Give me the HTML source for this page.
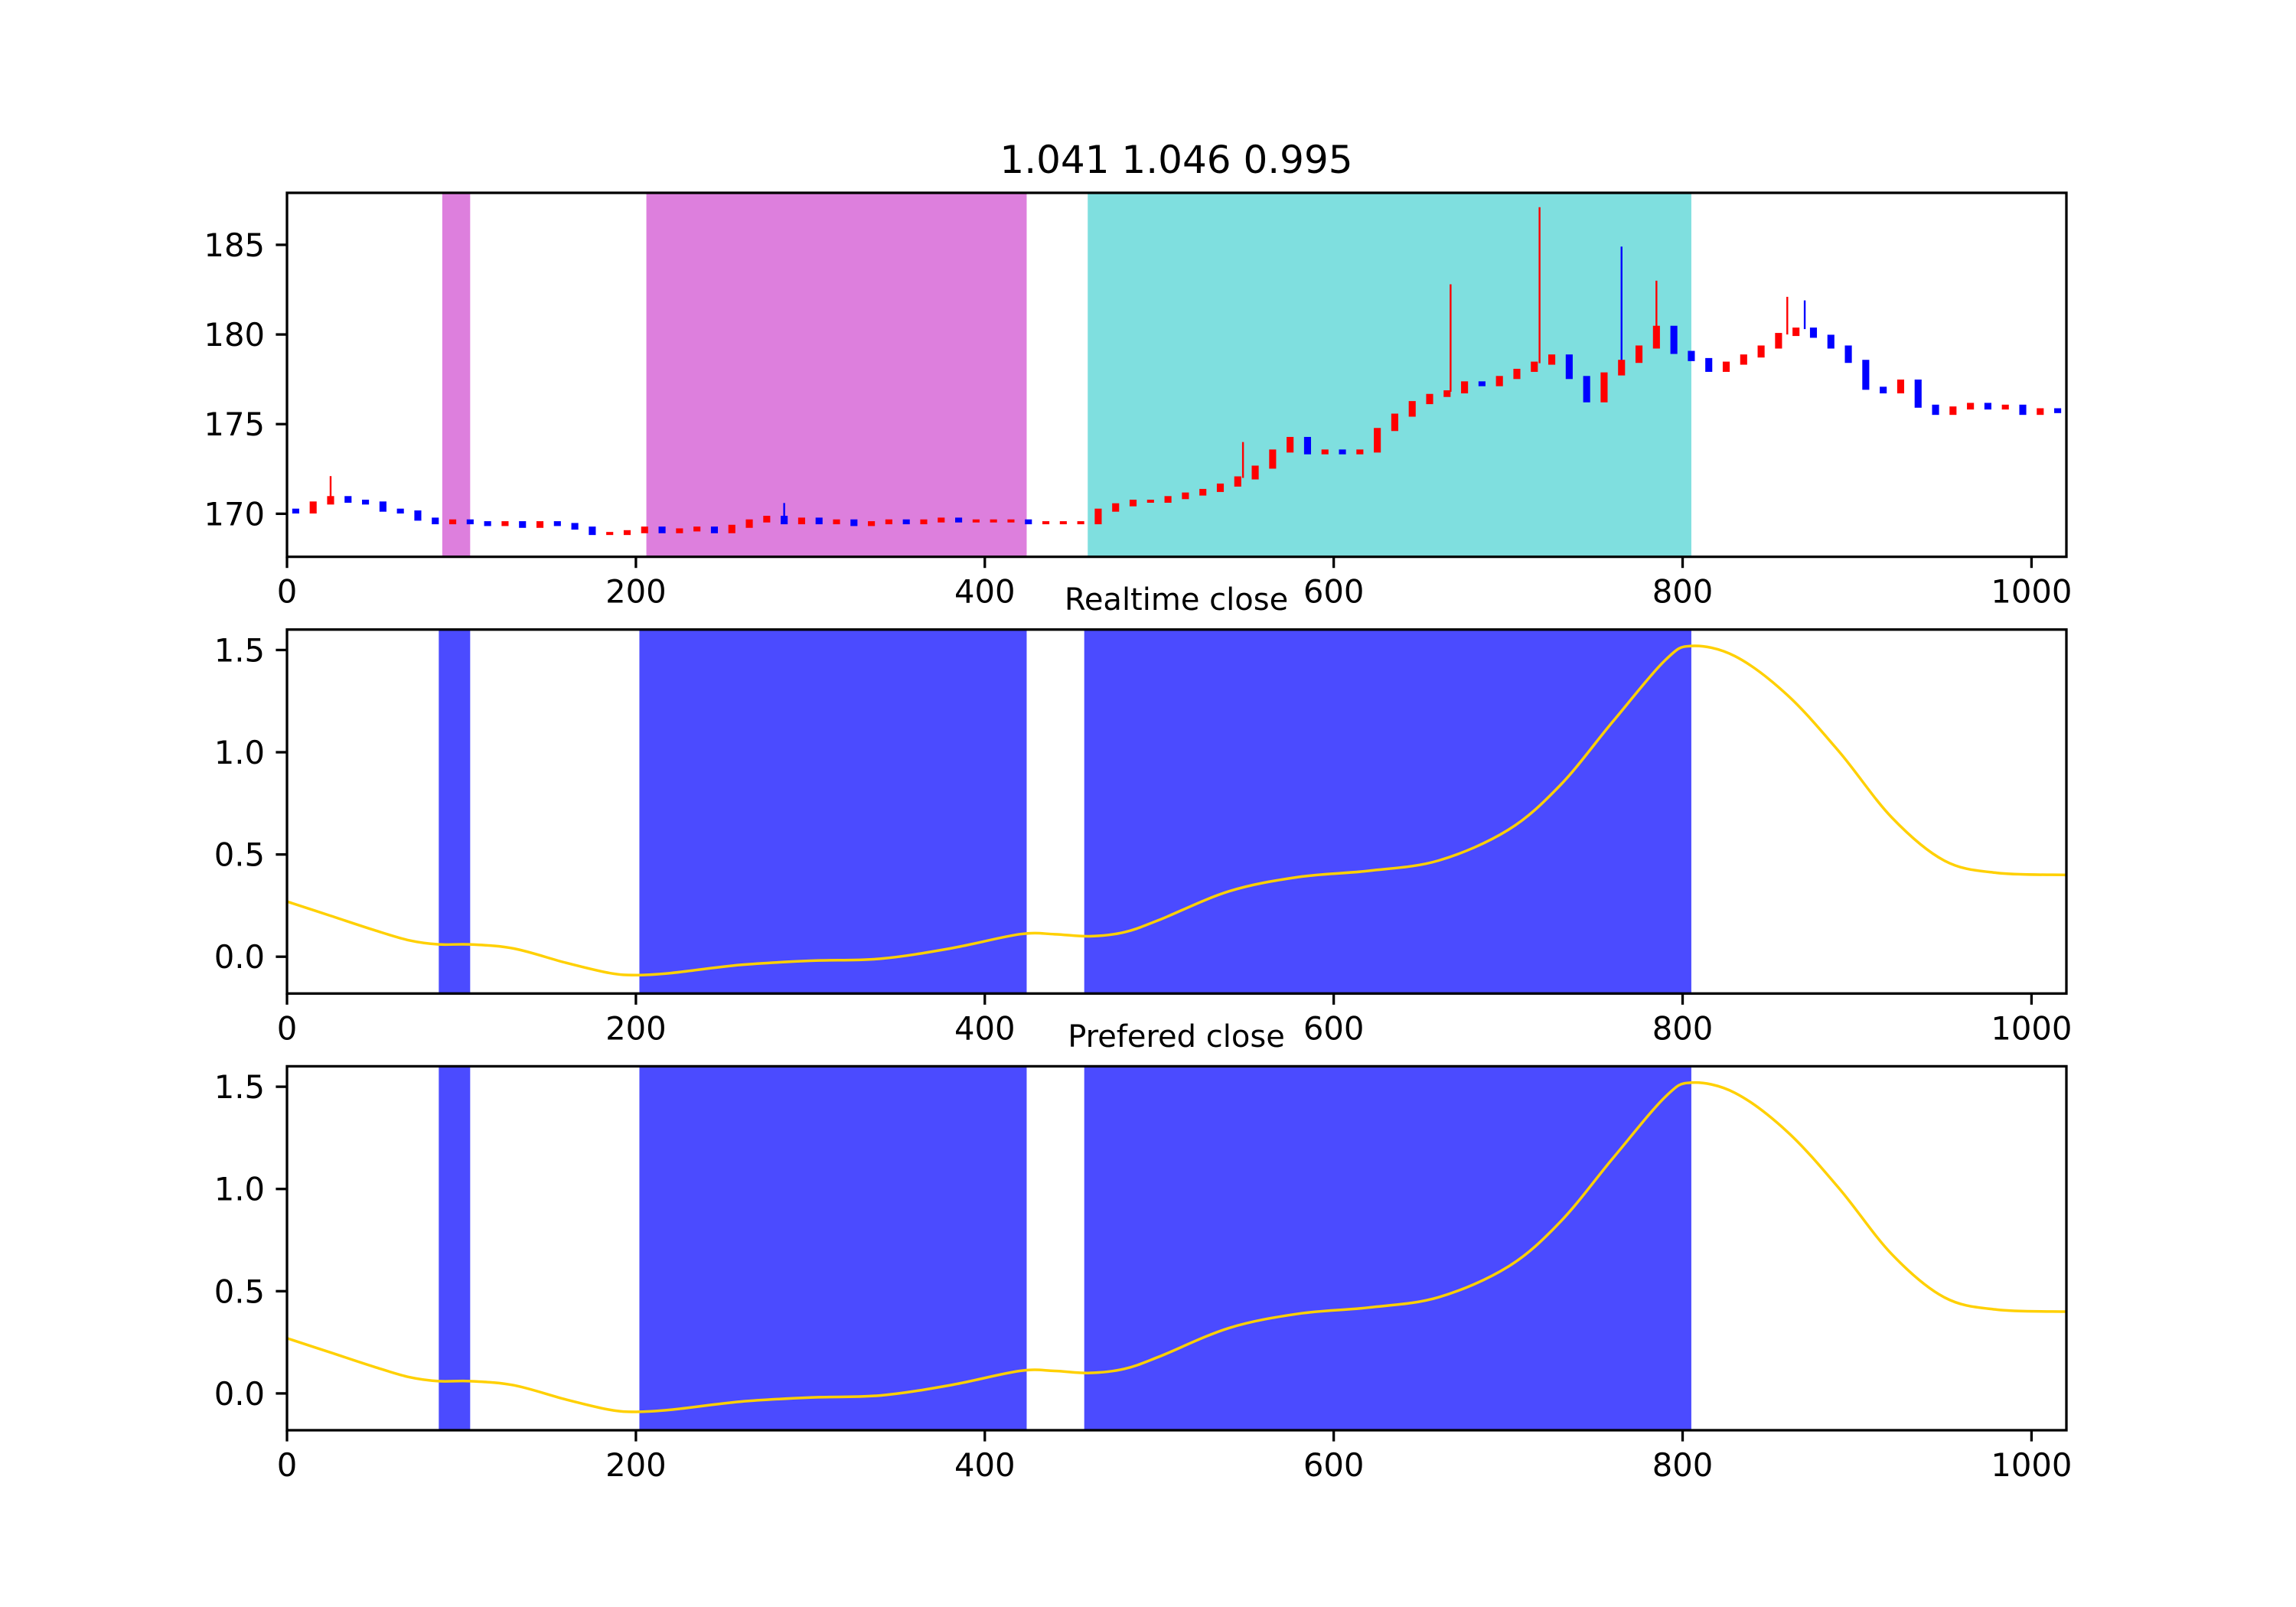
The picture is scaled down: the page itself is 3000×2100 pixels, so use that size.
<!DOCTYPE html>
<html><head><meta charset="utf-8">
<style>
html,body{margin:0;padding:0;background:#fff;}
svg{display:block;font-family:"DejaVu Sans","Liberation Sans",sans-serif;}
</style></head>
<body>
<svg id="fig" width="3000" height="2100" viewBox="0 0 3000 2100" xmlns="http://www.w3.org/2000/svg">
<rect x="0" y="0" width="3000" height="2100" fill="#fff"/>
<g id="ax1"></g>
<g id="ax2"></g>
<g id="ax3"></g>
<text x="1537" y="226" font-size="50" text-anchor="middle">1.041 1.046 0.995</text>
<text x="1537" y="797" font-size="40" text-anchor="middle">Realtime close</text>
<text x="1537" y="1368" font-size="40" text-anchor="middle">Prefered close</text>
</svg>
<script>
// ---- data ----
const xTicks = [0, 200, 400, 600, 800, 1000];
const priceTicks = [170, 175, 180, 185];
const curveTicks = [0.0, 0.5, 1.0, 1.5];
const priceSpans = [[89, 105], [206, 424]];
const cyanSpans = [[459, 805]];
const blueSpans = [[87, 105], [202, 424], [457, 805]];
// close prices sampled every 10 bars
const priceX = [0,10,20,30,40,50,60,70,80,90,100,110,120,130,140,150,160,170,180,190,200,210,220,230,240,250,260,270,280,290,300,310,320,330,340,350,360,370,380,390,400,410,420,430,440,450,460,470,480,490,500,510,520,530,540,550,560,570,580,590,600,610,620,630,640,650,660,670,680,690,700,710,720,730,740,750,760,770,780,790,800,810,820,830,840,850,860,870,880,890,900,910,920,930,940,950,960,970,980,990,1000,1010,1020];
const priceClose = [170.2,170.1,170.6,170.9,170.7,170.6,170.2,170.1,169.7,169.5,169.6,169.5,169.4,169.5,169.3,169.5,169.4,169.2,168.9,168.9,169.0,169.2,169.0,169.1,169.2,169.0,169.3,169.6,169.8,169.5,169.7,169.5,169.6,169.4,169.5,169.6,169.5,169.6,169.7,169.6,169.6,169.6,169.6,169.5,169.5,169.5,169.5,170.2,170.5,170.7,170.7,170.9,171.1,171.3,171.6,172.0,172.6,173.5,174.2,173.4,173.5,173.4,173.5,174.7,175.5,176.2,176.6,176.8,177.3,177.2,177.6,178.0,178.4,178.8,177.6,176.3,177.8,178.5,179.3,180.4,179.0,178.6,178.0,178.4,178.8,179.3,180.0,180.3,179.9,179.3,178.5,177.0,176.8,177.4,176.0,175.6,175.9,176.1,175.9,176.0,175.6,175.8,175.7];
const wickX = [25, 285, 667, 718, 765, 785, 860, 870, 548];
const wickHigh = [172.1, 170.6, 182.8, 187.1, 184.9, 183.0, 182.1, 181.9, 174.0];
// smooth curve (same for both lower panels)
const curveX = [0,25,50,70,87,105,130,160,185,200,220,260,300,340,380,420,440,460,480,500,540,580,620,660,700,730,760,790,805,830,860,890,920,950,980,1020];
const realtimeY = [0.27,0.20,0.13,0.08,0.06,0.06,0.04,-0.03,-0.08,-0.09,-0.08,-0.04,-0.02,-0.01,0.04,0.11,0.11,0.10,0.12,0.18,0.32,0.39,0.42,0.47,0.62,0.84,1.15,1.45,1.52,1.47,1.28,1.00,0.68,0.47,0.41,0.40];
const preferedY = [0.27,0.20,0.13,0.08,0.06,0.06,0.04,-0.03,-0.08,-0.09,-0.08,-0.04,-0.02,-0.01,0.04,0.11,0.11,0.10,0.12,0.18,0.32,0.39,0.42,0.47,0.62,0.84,1.15,1.45,1.52,1.47,1.28,1.00,0.68,0.47,0.41,0.40];

const NS = "http://www.w3.org/2000/svg";
const L = 375, R = 2700;
const XMAX = 1020;
function sx(v){ return L + (v / XMAX) * (R - L); }
function mk(tag, attrs, parent){
  const e = document.createElementNS(NS, tag);
  for (const k in attrs) e.setAttribute(k, attrs[k]);
  parent.appendChild(e); return e;
}
function makeY(top, bot, lo, hi){ return v => bot - (v - lo) / (hi - lo) * (bot - top); }

function frame(g, top, bot, sy, yt, fmt){
  xTicks.forEach(t => {
    const ln = mk("line", {x1: sx(t), x2: sx(t), y1: bot, y2: bot + 14.6, stroke: "#000", "stroke-width": 3.3}, g);
    
    
    const tx = mk("text", {x: sx(t), y: bot + 60, "font-size": 41.7, "text-anchor": "middle"}, g);
    tx.textContent = t;
    
    
  });
  yt.forEach(t => {
    const y = sy(t);
    const ln = mk("line", {x1: L - 14.6, x2: L, y1: y, y2: y, stroke: "#000", "stroke-width": 3.3}, g);
    
    
    const tx = mk("text", {x: L - 29, y: y + 15, "font-size": 41.7, "text-anchor": "end"}, g);
    tx.textContent = fmt(t);
    
    
  });
  const r = mk("rect", {x: L, y: top, width: R - L, height: bot - top, fill: "none", stroke: "#000", "stroke-width": 3.3}, g);
  
  
}

function spans(g, list, top, bot, color, name){
  list.forEach(s => {
    const r = mk("rect", {x: sx(s[0]), y: top, width: sx(s[1]) - sx(s[0]), height: bot - top, fill: color}, g);
    
    
  });
}

// panel 1
(function(){
  const g = document.getElementById("ax1");
  const top = 252, bot = 727.6;
  const sy = makeY(top, bot, 167.6, 187.9);
  spans(g, priceSpans, top, bot, "#dd7fdd", "magenta-span");
  spans(g, cyanSpans, top, bot, "#7fdfdf", "cyan-span");
  wickX.forEach((x, i) => {
    let j = Math.min(priceX.length - 1, Math.round(x / 10));
    const ln = mk("line", {x1: sx(x), x2: sx(x), y1: sy(wickHigh[i]), y2: sy(priceClose[j]), stroke: i % 3 === 1 ? "#0000ff" : "#ff0000", "stroke-width": 2.4}, g);
    
    
  });
  for (let i = 1; i < priceX.length; i++){
    const o = priceClose[i-1], c = priceClose[i];
    const up = c >= o;
    const y1 = sy(Math.max(o, c)), y2 = sy(Math.min(o, c));
    const x0 = sx(priceX[i-1]);
    const w = sx(priceX[i]) - x0;
    const r = mk("rect", {x: x0 + w*0.3, y: y1 - 2, width: w*0.4, height: Math.max(4, y2 - y1 + 4), fill: up ? "#ff0000" : "#0000ff"}, g);
    
    
  }
  frame(g, top, bot, sy, priceTicks, t => String(t));
})();

function curvePanel(id, top, bot, ys, name){
  const g = document.getElementById(id);
  const sy = makeY(top, bot, -0.18, 1.60);
  spans(g, blueSpans, top, bot, "#4b4bff", "blue-span");
  const pts = curveX.map((x, i) => [sx(x), sy(ys[i])]);
  let d = "M" + pts[0][0] + "," + pts[0][1];
  for (let i = 0; i < pts.length - 1; i++){
    const p0 = pts[Math.max(0, i-1)], p1 = pts[i], p2 = pts[i+1], p3 = pts[Math.min(pts.length-1, i+2)];
    const c1 = [p1[0] + (p2[0]-p0[0])/6, p1[1] + (p2[1]-p0[1])/6];
    const c2 = [p2[0] - (p3[0]-p1[0])/6, p2[1] - (p3[1]-p1[1])/6];
    d += " C" + c1 + " " + c2 + " " + p2;
  }
  const path = mk("path", {d: d, fill: "none", stroke: "#ffd000", "stroke-width": 3.5}, g);
  
  
  frame(g, top, bot, sy, curveTicks, t => t.toFixed(1));
}
curvePanel("ax2", 822.7, 1298.3, realtimeY, "realtime-close-line");
curvePanel("ax3", 1393.4, 1869, preferedY, "prefered-close-line");
</script>
</body></html>
